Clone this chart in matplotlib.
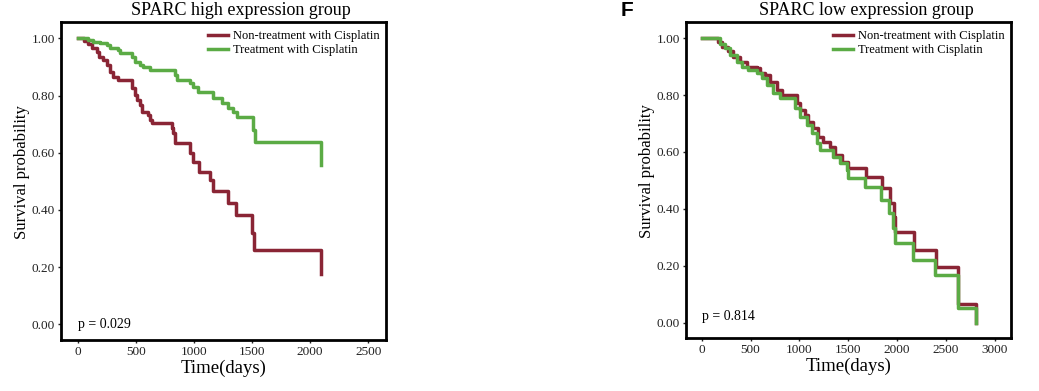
import matplotlib
matplotlib.use('Agg')
import matplotlib.pyplot as plt
from matplotlib.ticker import FormatStrFormatter

plt.rcParams['font.family'] = ['Liberation Serif', 'DejaVu Serif']

# SPARC high expression group
high_non_t = [0, 55, 91, 120, 163, 180, 220, 250, 278, 307, 350, 470, 490, 508, 536, 551, 608, 622,
              637, 809, 823, 837, 966, 995, 1040, 1139, 1167, 1296, 1360, 1497, 1515, 2090]
high_non_s = [1.00, 0.99, 0.98, 0.965, 0.953, 0.936, 0.924, 0.907, 0.883, 0.866, 0.854, 0.825, 0.802,
              0.784, 0.767, 0.743, 0.732, 0.714, 0.703, 0.685, 0.668, 0.633, 0.598, 0.569, 0.534,
              0.505, 0.467, 0.425, 0.382, 0.318, 0.26, 0.175]
high_trt_t = [0, 91, 134, 192, 250, 278, 350, 364, 465, 493, 536, 565, 622, 837, 852, 966, 995, 1038,
              1167, 1239, 1296, 1339, 1368, 1511, 1526, 2094]
high_trt_s = [1.00, 0.994, 0.988, 0.982, 0.977, 0.965, 0.959, 0.95, 0.936, 0.918, 0.907, 0.90, 0.889,
              0.872, 0.854, 0.843, 0.829, 0.813, 0.79, 0.773, 0.755, 0.743, 0.724, 0.679, 0.638, 0.557]

# SPARC low expression group
low_non_t = [0, 170, 205, 273, 324, 392, 461, 563, 597, 648, 700, 768, 820, 973, 1007, 1058, 1092,
             1143, 1195, 1246, 1315, 1366, 1434, 1502, 1680, 1850, 1930, 1965, 1985, 2175, 2400,
             2629, 2810]
low_non_s = [1.0, 0.985, 0.97, 0.955, 0.935, 0.918, 0.90, 0.894, 0.877, 0.871, 0.847, 0.818, 0.80,
             0.771, 0.748, 0.73, 0.707, 0.683, 0.654, 0.636, 0.619, 0.59, 0.566, 0.543, 0.513, 0.473,
             0.42, 0.373, 0.32, 0.256, 0.197, 0.066, 0.0]
low_trt_t = [0, 188, 239, 290, 358, 410, 478, 563, 614, 666, 734, 802, 956, 1007, 1076, 1127, 1178,
             1212, 1348, 1417, 1486, 1502, 1673, 1835, 1922, 1963, 1980, 2168, 2390, 2629, 2810]
low_trt_s = [1.0, 0.98, 0.965, 0.94, 0.918, 0.90, 0.888, 0.877, 0.859, 0.836, 0.807, 0.789, 0.754,
             0.724, 0.695, 0.666, 0.631, 0.607, 0.584, 0.56, 0.537, 0.508, 0.478, 0.431, 0.385,
             0.332, 0.279, 0.22, 0.168, 0.051, 0.0]

labels = ['Non-treatment with Cisplatin', 'Treatment with Cisplatin']
red = '#8a2535'
green = '#5bab45'

fig = plt.figure(figsize=(10.39, 3.91), dpi=100)
ax1 = fig.add_axes([0.0587, 0.1304, 0.3128, 0.8133])
ax2 = fig.add_axes([0.6603, 0.1355, 0.3128, 0.8082])

panels = [
    (ax1, high_non_t, high_non_s, high_trt_t, high_trt_s, (-144, 2653), (-0.055, 1.057),
     range(0, 2501, 500), 'p = 0.029', 0.0, 'SPARC high expression group'),
    (ax2, low_non_t, low_non_s, low_trt_t, low_trt_s, (-161, 3169), (-0.054, 1.057),
     range(0, 3001, 500), 'p = 0.814', 0.02, 'SPARC low expression group'),
]

for ax, nt, ns, tt, ts, xl, yl, xt, ptxt, py, title in panels:
    ax.step(nt, ns, where='post', color=red, lw=2.5, label=labels[0])
    ax.step(tt, ts, where='post', color=green, lw=2.5, label=labels[1])
    ax.set_xlim(*xl)
    ax.set_ylim(*yl)
    ax.set_xticks(list(xt))
    ax.set_yticks([0, 0.2, 0.4, 0.6, 0.8, 1.0])
    ax.yaxis.set_major_formatter(FormatStrFormatter('%.2f'))
    for s in ax.spines.values():
        s.set_linewidth(2.0)
        s.set_color('black')
    ax.tick_params(direction='out', length=2.5, width=1.0, pad=2, labelsize=9.5, colors='#222222')
    ax.set_xlabel('Time(days)', fontsize=13.5, labelpad=1)
    ax.set_ylabel('Survival probability', fontsize=12)
    ax.yaxis.set_label_coords(-0.096, 0.528)
    ax.text(0, py, ptxt, fontsize=10, ha='left', va='center')
    ax.legend(loc='upper left', bbox_to_anchor=(0.452, 0.975), frameon=False, fontsize=9,
              handlelength=1.6, handletextpad=0.4, labelspacing=0.2, borderpad=0,
              borderaxespad=0)
    pos = ax.get_position()
    fig.text(pos.x0 + pos.width / 2 + 0.017, 0.973, title, fontsize=13, ha='center', va='center')

fig.text(0.5977, 0.973, 'F', fontsize=15, fontweight='bold', family='Liberation Sans',
         ha='left', va='center')

fig.savefig('out.png', dpi=100)
